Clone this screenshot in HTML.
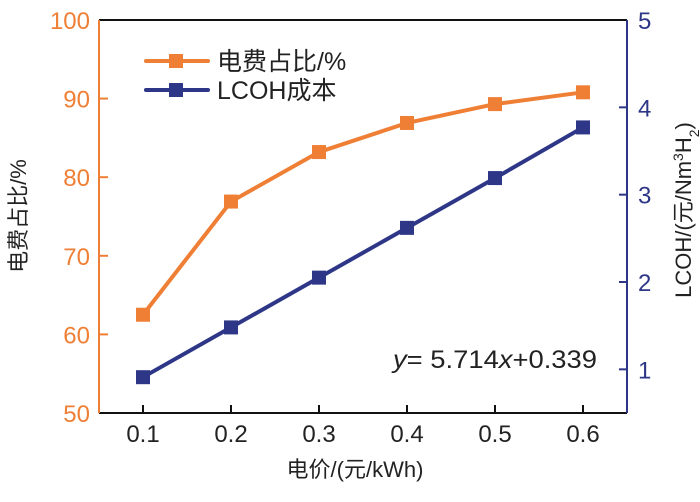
<!DOCTYPE html>
<html><head><meta charset="utf-8"><style>
body{margin:0;background:#fff;}
svg{display:block;font-family:"Liberation Sans","Noto Sans CJK SC",sans-serif;}
</style></head><body>
<svg id="chart" width="700" height="502" viewBox="0 0 700 502">
<g id="axes"></g>
<g id="marks"></g>
<g>
  <line x1="146" y1="61" x2="208" y2="61" stroke="#f07f36" stroke-width="4" stroke-linecap="round"/>
  <rect x="169" y="54" width="14" height="14" fill="#f07f36"/>
  <text x="217" y="70" font-size="25" fill="#222">电费占比/%</text>
  <line x1="146" y1="90" x2="208" y2="90" stroke="#2e3787" stroke-width="4" stroke-linecap="round"/>
  <rect x="169" y="83" width="14" height="14" fill="#2e3787"/>
  <text x="217" y="99" font-size="25" fill="#222">LCOH成本</text>
</g>
<text x="393" y="368" font-size="25" textLength="204" lengthAdjust="spacingAndGlyphs" fill="#222"><tspan font-style="italic">y</tspan>= 5.714<tspan font-style="italic">x</tspan>+0.339</text>
<text x="355" y="477" font-size="22" fill="#222" text-anchor="middle">电价/(元/kWh)</text>
<text transform="translate(26,216) rotate(-90)" font-size="22" fill="#222" text-anchor="middle">电费占比/%</text>
<text transform="translate(691,210) rotate(-90)" font-size="22" fill="#222" text-anchor="middle">LCOH/(元/Nm<tspan baseline-shift="super" font-size="14">3</tspan>H<tspan baseline-shift="sub" font-size="14">2</tspan>)</text>
</svg>
<script>
const categories=[0.1,0.2,0.3,0.4,0.5,0.6];
const shareValues=[62.5,76.9,83.2,86.9,89.3,90.8];
const lcohValues=[0.91,1.48,2.05,2.62,3.19,3.77];
const leftTicks=[50,60,70,80,90,100];
const rightTicks=[1,2,3,4,5];
const xTickLabels=["0.1","0.2","0.3","0.4","0.5","0.6"];
const L=99,R=627,T=20,B=413;
const xS=v=>143+(v-0.1)/0.5*(583-143);
const yL=v=>B-(v-50)/50*(B-T);
const yR=v=>B-(v-0.5)/4.5*(B-T);
const NS="http://www.w3.org/2000/svg";
function mk(p,tag,attrs){const e=document.createElementNS(NS,tag);for(const k in attrs)e.setAttribute(k,attrs[k]);p.appendChild(e);return e;}
const ax=document.getElementById('axes');
let e;
e=mk(ax,'line',{x1:L,y1:T,x2:R,y2:T,stroke:'#111','stroke-width':2});


e=mk(ax,'line',{x1:L,y1:B,x2:R,y2:B,stroke:'#111','stroke-width':2});


e=mk(ax,'line',{x1:L,y1:T,x2:L,y2:B,stroke:'#f07f36','stroke-width':2});


e=mk(ax,'line',{x1:R,y1:T,x2:R,y2:B,stroke:'#2e3787','stroke-width':2});


categories.forEach((c,i)=>{
  e=mk(ax,'line',{x1:xS(c),y1:B,x2:xS(c),y2:B-8,stroke:'#111','stroke-width':2});
  
  
  e=mk(ax,'text',{x:xS(c),y:442,'font-size':24,fill:'#222','text-anchor':'middle'});
  e.textContent=xTickLabels[i];
  
  
});
leftTicks.forEach(t=>{
  if(t>50&&t<100){e=mk(ax,'line',{x1:L,y1:yL(t),x2:L+9,y2:yL(t),stroke:'#f07f36','stroke-width':2});
  
  }
  e=mk(ax,'text',{x:90,y:yL(t)+9,'font-size':24,fill:'#f07f36','text-anchor':'end'});
  e.textContent=t;
  
  
});
rightTicks.forEach(t=>{
  if(t<5){e=mk(ax,'line',{x1:R,y1:yR(t),x2:R-8,y2:yR(t),stroke:'#2e3787','stroke-width':2});
  
  }
  e=mk(ax,'text',{x:638,y:yR(t)+9,'font-size':24,fill:'#2e3787'});
  e.textContent=t;
  
  
});
const mg=document.getElementById('marks');
function series(vals,ys,color,name){
  e=mk(mg,'polyline',{points:categories.map((c,i)=>xS(c)+','+ys(vals[i])).join(' '),fill:'none',stroke:color,'stroke-width':4,'stroke-linejoin':'round'});
  
  
  categories.forEach((c,i)=>{
    e=mk(mg,'rect',{x:xS(c)-7,y:ys(vals[i])-7,width:14,height:14,fill:color});
    
    
  });
}
series(shareValues,yL,'#f07f36','share');
series(lcohValues,yR,'#2e3787','lcoh');
</script>
</body></html>
